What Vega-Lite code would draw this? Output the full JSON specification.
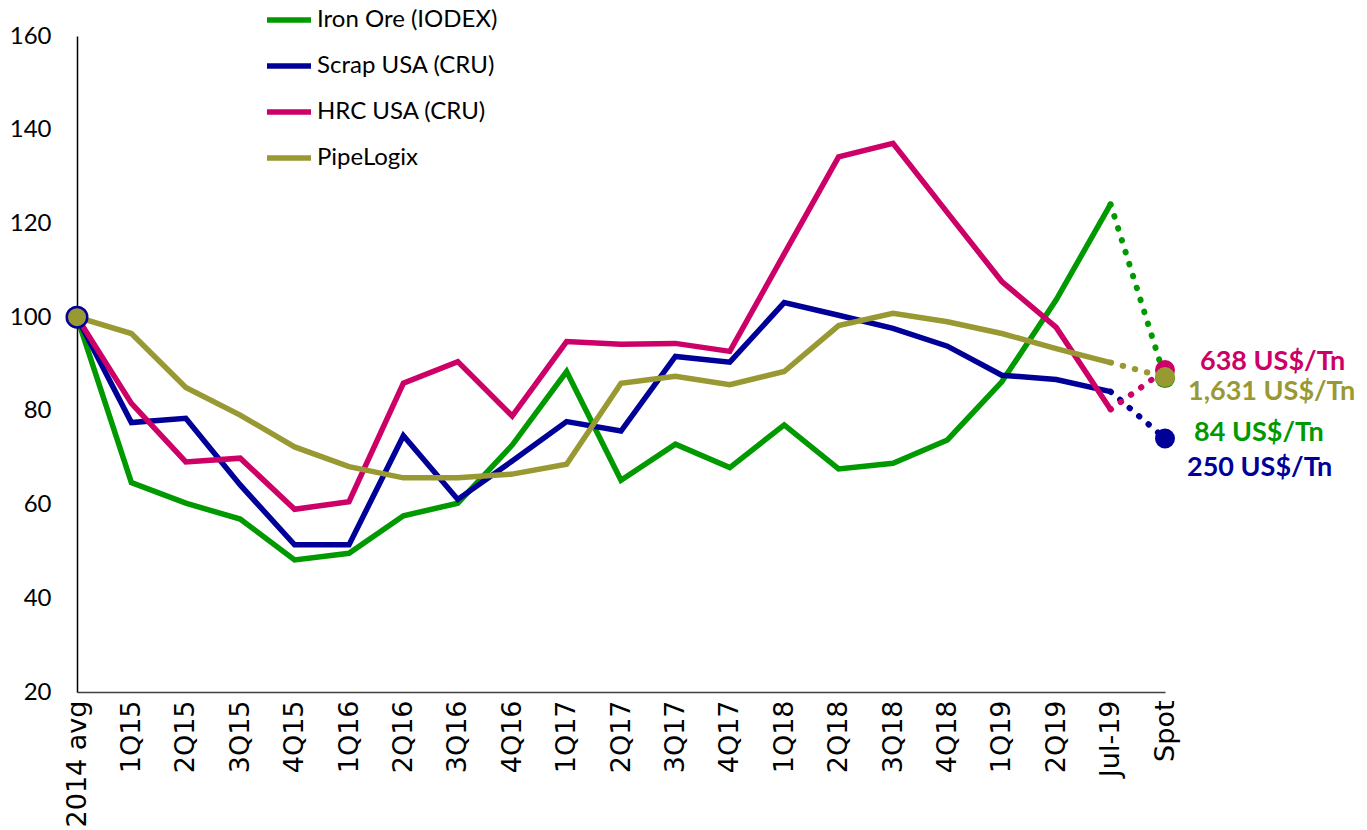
{
  "$schema": "https://vega.github.io/schema/vega-lite/v6.json",
  "width": 1088,
  "height": 656,
  "autosize": {"type": "none"},
  "padding": {"left": 77, "top": 36, "right": 202, "bottom": 138},
  "background": "white",
  "config": {"view": {"stroke": null}},
  "data": {"values": [
    {"series": "Iron Ore (IODEX)", "period": "2014 avg", "value": 100},
    {"series": "Iron Ore (IODEX)", "period": "1Q15", "value": 64.7},
    {"series": "Iron Ore (IODEX)", "period": "2Q15", "value": 60.3},
    {"series": "Iron Ore (IODEX)", "period": "3Q15", "value": 56.9},
    {"series": "Iron Ore (IODEX)", "period": "4Q15", "value": 48.2},
    {"series": "Iron Ore (IODEX)", "period": "1Q16", "value": 49.6},
    {"series": "Iron Ore (IODEX)", "period": "2Q16", "value": 57.6},
    {"series": "Iron Ore (IODEX)", "period": "3Q16", "value": 60.3},
    {"series": "Iron Ore (IODEX)", "period": "4Q16", "value": 72.7},
    {"series": "Iron Ore (IODEX)", "period": "1Q17", "value": 88.4},
    {"series": "Iron Ore (IODEX)", "period": "2Q17", "value": 65.2},
    {"series": "Iron Ore (IODEX)", "period": "3Q17", "value": 72.9},
    {"series": "Iron Ore (IODEX)", "period": "4Q17", "value": 67.9},
    {"series": "Iron Ore (IODEX)", "period": "1Q18", "value": 77.0},
    {"series": "Iron Ore (IODEX)", "period": "2Q18", "value": 67.6},
    {"series": "Iron Ore (IODEX)", "period": "3Q18", "value": 68.8},
    {"series": "Iron Ore (IODEX)", "period": "4Q18", "value": 73.8},
    {"series": "Iron Ore (IODEX)", "period": "1Q19", "value": 86.2},
    {"series": "Iron Ore (IODEX)", "period": "2Q19", "value": 103.7},
    {"series": "Iron Ore (IODEX)", "period": "Jul-19", "value": 124.1},
    {"series": "Iron Ore (IODEX)", "period": "Spot", "value": 87.0, "label": "84 US$/Tn"},
    {"series": "Scrap USA (CRU)", "period": "2014 avg", "value": 100},
    {"series": "Scrap USA (CRU)", "period": "1Q15", "value": 77.5},
    {"series": "Scrap USA (CRU)", "period": "2Q15", "value": 78.4},
    {"series": "Scrap USA (CRU)", "period": "3Q15", "value": 64.2},
    {"series": "Scrap USA (CRU)", "period": "4Q15", "value": 51.4},
    {"series": "Scrap USA (CRU)", "period": "1Q16", "value": 51.4},
    {"series": "Scrap USA (CRU)", "period": "2Q16", "value": 74.7},
    {"series": "Scrap USA (CRU)", "period": "3Q16", "value": 61.1},
    {"series": "Scrap USA (CRU)", "period": "4Q16", "value": 69.3},
    {"series": "Scrap USA (CRU)", "period": "1Q17", "value": 77.7},
    {"series": "Scrap USA (CRU)", "period": "2Q17", "value": 75.7},
    {"series": "Scrap USA (CRU)", "period": "3Q17", "value": 91.6},
    {"series": "Scrap USA (CRU)", "period": "4Q17", "value": 90.4},
    {"series": "Scrap USA (CRU)", "period": "1Q18", "value": 103.1},
    {"series": "Scrap USA (CRU)", "period": "2Q18", "value": 100.4},
    {"series": "Scrap USA (CRU)", "period": "3Q18", "value": 97.6},
    {"series": "Scrap USA (CRU)", "period": "4Q18", "value": 93.8},
    {"series": "Scrap USA (CRU)", "period": "1Q19", "value": 87.6},
    {"series": "Scrap USA (CRU)", "period": "2Q19", "value": 86.7},
    {"series": "Scrap USA (CRU)", "period": "Jul-19", "value": 84.1},
    {"series": "Scrap USA (CRU)", "period": "Spot", "value": 74.1, "label": "250 US$/Tn"},
    {"series": "HRC USA (CRU)", "period": "2014 avg", "value": 100},
    {"series": "HRC USA (CRU)", "period": "1Q15", "value": 81.6},
    {"series": "HRC USA (CRU)", "period": "2Q15", "value": 69.1},
    {"series": "HRC USA (CRU)", "period": "3Q15", "value": 69.9},
    {"series": "HRC USA (CRU)", "period": "4Q15", "value": 59.0},
    {"series": "HRC USA (CRU)", "period": "1Q16", "value": 60.6},
    {"series": "HRC USA (CRU)", "period": "2Q16", "value": 85.9},
    {"series": "HRC USA (CRU)", "period": "3Q16", "value": 90.5},
    {"series": "HRC USA (CRU)", "period": "4Q16", "value": 78.9},
    {"series": "HRC USA (CRU)", "period": "1Q17", "value": 94.8},
    {"series": "HRC USA (CRU)", "period": "2Q17", "value": 94.2},
    {"series": "HRC USA (CRU)", "period": "3Q17", "value": 94.4},
    {"series": "HRC USA (CRU)", "period": "4Q17", "value": 92.7},
    {"series": "HRC USA (CRU)", "period": "1Q18", "value": 113.5},
    {"series": "HRC USA (CRU)", "period": "2Q18", "value": 134.2},
    {"series": "HRC USA (CRU)", "period": "3Q18", "value": 137.1},
    {"series": "HRC USA (CRU)", "period": "4Q18", "value": 122.3},
    {"series": "HRC USA (CRU)", "period": "1Q19", "value": 107.6},
    {"series": "HRC USA (CRU)", "period": "2Q19", "value": 97.8},
    {"series": "HRC USA (CRU)", "period": "Jul-19", "value": 80.3},
    {"series": "HRC USA (CRU)", "period": "Spot", "value": 88.7, "label": "638 US$/Tn"},
    {"series": "PipeLogix", "period": "2014 avg", "value": 100},
    {"series": "PipeLogix", "period": "1Q15", "value": 96.5},
    {"series": "PipeLogix", "period": "2Q15", "value": 85.0},
    {"series": "PipeLogix", "period": "3Q15", "value": 79.1},
    {"series": "PipeLogix", "period": "4Q15", "value": 72.3},
    {"series": "PipeLogix", "period": "1Q16", "value": 68.1},
    {"series": "PipeLogix", "period": "2Q16", "value": 65.7},
    {"series": "PipeLogix", "period": "3Q16", "value": 65.7},
    {"series": "PipeLogix", "period": "4Q16", "value": 66.5},
    {"series": "PipeLogix", "period": "1Q17", "value": 68.6},
    {"series": "PipeLogix", "period": "2Q17", "value": 85.9},
    {"series": "PipeLogix", "period": "3Q17", "value": 87.4},
    {"series": "PipeLogix", "period": "4Q17", "value": 85.6},
    {"series": "PipeLogix", "period": "1Q18", "value": 88.4},
    {"series": "PipeLogix", "period": "2Q18", "value": 98.2},
    {"series": "PipeLogix", "period": "3Q18", "value": 100.8},
    {"series": "PipeLogix", "period": "4Q18", "value": 99.0},
    {"series": "PipeLogix", "period": "1Q19", "value": 96.5},
    {"series": "PipeLogix", "period": "2Q19", "value": 93.3},
    {"series": "PipeLogix", "period": "Jul-19", "value": 90.3},
    {"series": "PipeLogix", "period": "Spot", "value": 87.2, "label": "1,631 US$/Tn"}
  ]},
  "encoding": {
    "x": {
      "field": "period", "type": "ordinal",
      "scale": {"type": "point", "padding": 0, "domain": ["2014 avg","1Q15","2Q15","3Q15","4Q15","1Q16","2Q16","3Q16","4Q16","1Q17","2Q17","3Q17","4Q17","1Q18","2Q18","3Q18","4Q18","1Q19","2Q19","Jul-19","Spot"]},
      "axis": {"title": null, "labelAngle": -90, "labelFont": "DejaVu Sans", "labelFontSize": 27, "labelColor": "black", "ticks": false, "tickSize": 0, "labelPadding": 8, "domainColor": "#404040", "domainWidth": 1.5, "grid": false, "labelOverlap": false}
    },
    "y": {
      "field": "value", "type": "quantitative",
      "scale": {"domain": [20, 160], "nice": false, "zero": false},
      "axis": {"title": null, "values": [20,40,60,80,100,120,140,160], "labelFont": "Lato", "labelFontSize": 24, "labelColor": "black", "ticks": false, "tickSize": 0, "labelPadding": 26, "domainColor": "black", "domainWidth": 1.5, "grid": false}
    }
  },
  "layer": [
    {
      "transform": [{"filter": "datum.period !== 'Spot'"}],
      "mark": {"type": "line", "strokeWidth": 5.5, "strokeJoin": "miter"},
      "encoding": {
        "color": {
          "field": "series", "type": "nominal",
          "scale": {"domain": ["Iron Ore (IODEX)","Scrap USA (CRU)","HRC USA (CRU)","PipeLogix"], "range": ["#009900","#000099","#CC0066","#999933"]},
          "legend": {"orient": "none", "legendX": 187, "legendY": -41, "direction": "vertical", "title": null, "padding": 0, "symbolType": "stroke", "symbolStrokeWidth": 5.5, "symbolSize": 1936, "rowPadding": 9, "labelFont": "Lato", "labelFontSize": 24, "labelColor": "black", "labelOffset": 3, "labelLimit": 400}
        }
      }
    },
    {
      "transform": [{"filter": "datum.period === 'Jul-19' || datum.period === 'Spot'"}],
      "mark": {"type": "line", "strokeWidth": 6, "strokeDash": [0.5, 12], "strokeCap": "round"},
      "encoding": {
        "stroke": {
          "field": "series", "type": "nominal",
          "scale": {"domain": ["Iron Ore (IODEX)","Scrap USA (CRU)","HRC USA (CRU)","PipeLogix"], "range": ["#009900","#000099","#CC0066","#999933"]},
          "legend": null
        }
      }
    },
    {
      "transform": [{"filter": "datum.period === 'Spot'"}],
      "mark": {"type": "point", "filled": true, "size": 400, "opacity": 1, "shape": "circle"},
      "encoding": {
        "fill": {
          "field": "series", "type": "nominal",
          "scale": {"domain": ["Iron Ore (IODEX)","Scrap USA (CRU)","HRC USA (CRU)","PipeLogix"], "range": ["#009900","#000099","#CC0066","#999933"]},
          "legend": null
        }
      }
    },
    {
      "transform": [{"filter": "datum.period === '2014 avg' && datum.series === 'PipeLogix'"}],
      "mark": {"type": "point", "filled": true, "size": 420, "opacity": 1, "shape": "circle", "fill": "#999933", "stroke": "#000099", "strokeWidth": 2.5},
      "encoding": {}
    },
    {
      "transform": [{"filter": "datum.period === 'Spot' && datum.series === 'HRC USA (CRU)'"}],
      "mark": {"type": "text", "align": "left", "baseline": "middle", "dx": 35, "dy": -8, "font": "Lato", "fontSize": 27, "fontWeight": "bold", "color": "#CC0066"},
      "encoding": {"text": {"field": "label"}}
    },
    {
      "transform": [{"filter": "datum.period === 'Spot' && datum.series === 'PipeLogix'"}],
      "mark": {"type": "text", "align": "left", "baseline": "middle", "dx": 23, "dy": 15, "font": "Lato", "fontSize": 27, "fontWeight": "bold", "color": "#999933"},
      "encoding": {"text": {"field": "label"}}
    },
    {
      "transform": [{"filter": "datum.period === 'Spot' && datum.series === 'Iron Ore (IODEX)'"}],
      "mark": {"type": "text", "align": "left", "baseline": "middle", "dx": 29, "dy": 55, "font": "Lato", "fontSize": 27, "fontWeight": "bold", "color": "#009900"},
      "encoding": {"text": {"field": "label"}}
    },
    {
      "transform": [{"filter": "datum.period === 'Spot' && datum.series === 'Scrap USA (CRU)'"}],
      "mark": {"type": "text", "align": "left", "baseline": "middle", "dx": 22, "dy": 29, "font": "Lato", "fontSize": 27, "fontWeight": "bold", "color": "#000099"},
      "encoding": {"text": {"field": "label"}}
    }
  ]
}
